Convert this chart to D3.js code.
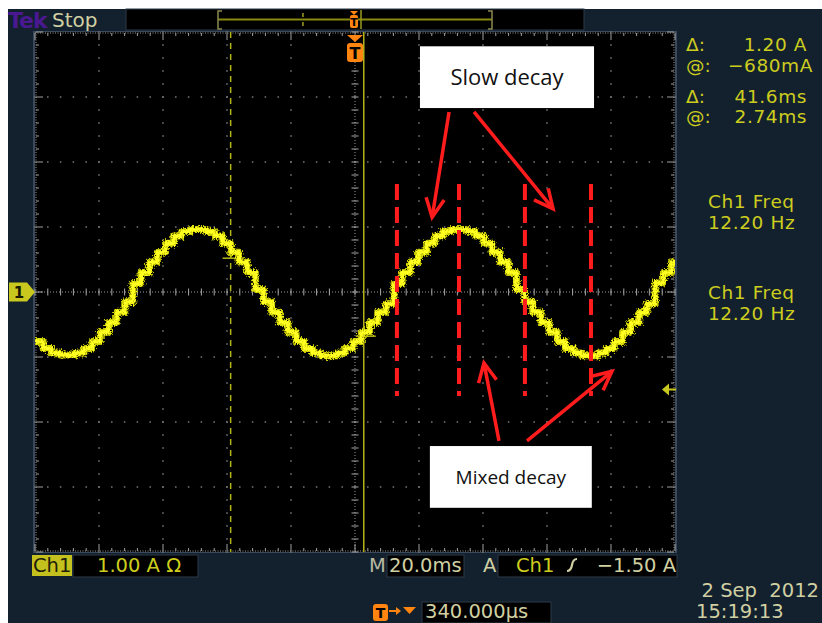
<!DOCTYPE html>
<html>
<head>
<meta charset="utf-8">
<script src="https://cdn.jsdelivr.net/npm/d3@7"></script>
<style>
html,body{margin:0;padding:0;background:#ffffff;}
svg{display:block;}
</style>
</head>
<body>
<svg id="chart" width="822" height="623"></svg>
<script>
// ---------------- DATA ----------------
const timeDomainMs = [-100, 100];        // 10 div x 20 ms/div
const currentDomainA = [-4, 4];          // 8 div x 1.00 A/div
const traceStartMs = -100;
const stepMs = 2.55;                     // one microstep
const stepLevelsA = [
  -0.76,-0.87,-0.94,-0.97,-0.97,-0.94,-0.87,-0.76,-0.62,-0.47,-0.31,-0.15,
   0.13, 0.30, 0.46, 0.61, 0.75, 0.86, 0.93, 0.96, 0.96, 0.93, 0.86, 0.75, 0.61, 0.46, 0.30, 0.04,
  -0.15,-0.31,-0.47,-0.62,-0.76,-0.87,-0.94,-0.98,-0.98,-0.94,-0.87,-0.76,-0.62,-0.47,-0.31,-0.18,
   0.13, 0.30, 0.46, 0.61, 0.75, 0.86, 0.93, 0.96, 0.96, 0.93, 0.86, 0.75, 0.61, 0.46, 0.30, 0.04,
  -0.15,-0.31,-0.47,-0.62,-0.76,-0.87,-0.94,-0.98,-0.98,-0.94,-0.87,-0.76,-0.62,-0.47,-0.31,-0.18,
   0.14, 0.30, 0.46
];
const cursorTimesMs = [-38.86, 2.74];
const cursorValuesA = [0.52, -0.68];
const triggerLevelA = -1.50;
const triggerTimeMs = 0;
const markerTimesMs = [13.1, 32.5, 53.1, 73.75];   // red dashed annotation lines
const markerRangeA = [1.66, -1.60];
const annotationBoxes = [
  {label: "Slow decay",  t0: 20.3, t1: 74.7, a0: 3.78, a1: 2.83, size: 22},
  {label: "Mixed decay", t0: 23.4, t1: 74.0, a0: -2.37, a1: -3.32, size: 19}
];
const arrows = [
  {t0: 29.4, a0: 2.77, t1: 24.1, a1: 1.15},
  {t0: 37.2, a0: 2.77, t1: 61.9, a1: 1.28},
  {t0: 45.0, a0: -2.29, t1: 40.3, a1: -1.09},
  {t0: 53.75, a0: -2.29, t1: 80.3, a1: -1.22}
];
const readouts = [
  ["Δ:", "1.20 A"], ["@:", "−680mA"], ["Δ:", "41.6ms"], ["@:", "2.74ms"]
];
const measLabels = [["Ch1 Freq", "12.20 Hz"], ["Ch1 Freq", "12.20 Hz"]];

// ---------------- LAYOUT ----------------
const svg = d3.select("#chart");
const GX0 = 35, GX1 = 675, GY0 = 32, GY1 = 552;
const x = d3.scaleLinear().domain(timeDomainMs).range([GX0, GX1]);
const y = d3.scaleLinear().domain(currentDomainA).range([GY1, GY0]);

const YEL = "#cdcd1e", KHAKI = "#d0d0a2", NAVY = "#13212f", ORANGE = "#ff8410";
const FS = 19.5, FSR = 18.5;
const defs = svg.append("defs");
defs.append("clipPath").attr("id","gclip").append("rect")
  .attr("x",GX0).attr("y",GY0).attr("width",GX1-GX0).attr("height",GY1-GY0);
const f = defs.append("filter").attr("id","fuzz").attr("x","-5%").attr("y","-20%").attr("width","110%").attr("height","140%");
f.append("feTurbulence").attr("type","fractalNoise").attr("baseFrequency","0.9 0.6").attr("numOctaves",2).attr("seed",4).attr("result","n");
f.append("feDisplacementMap").attr("in","SourceGraphic").attr("in2","n").attr("scale",7)
  .attr("xChannelSelector","R").attr("yChannelSelector","G");

// panel background
svg.append("rect").attr("x",8).attr("y",9).attr("width",814).attr("height",614).attr("fill",NAVY);

// top bar
svg.append("text").attr("x",8).attr("y",28).attr("font-family","DejaVu Sans").attr("font-weight","bold")
  .attr("font-size",22).attr("fill","#4a1890").attr("letter-spacing",-1).text("Tek");
svg.append("text").attr("x",52).attr("y",27).attr("font-family","DejaVu Sans")
  .attr("font-size",20).attr("fill",KHAKI).text("Stop");
svg.append("rect").attr("x",126).attr("y",9).attr("width",458).attr("height",21).attr("fill","#000")
  .attr("stroke","#2c3a48").attr("stroke-width",1);
const recX = d3.scaleLinear().domain(timeDomainMs).range([218, 492]);
svg.append("line").attr("x1",recX(-100)).attr("x2",recX(100)).attr("y1",19.5).attr("y2",19.5)
  .attr("stroke","#8a8a10").attr("stroke-width",2);
svg.append("path").attr("d",`M${recX(-100)+4},11 H${recX(-100)} V29 H${recX(-100)+4}`).attr("fill","none").attr("stroke","#8a8a50").attr("stroke-width",1.5);
svg.append("path").attr("d",`M${recX(100)-4},11 H${recX(100)} V29 H${recX(100)-4}`).attr("fill","none").attr("stroke","#8a8a50").attr("stroke-width",1.5);
svg.append("line").attr("x1",recX(-38)).attr("x2",recX(-38)).attr("y1",13).attr("y2",17).attr("stroke","#a0a020").attr("stroke-width",1.5);
svg.append("line").attr("x1",recX(-38)).attr("x2",recX(-38)).attr("y1",22).attr("y2",26).attr("stroke","#a0a020").attr("stroke-width",1.5);
svg.append("line").attr("x1",361).attr("x2",361).attr("y1",10).attr("y2",29).attr("stroke","#9a9a20").attr("stroke-width",1.5);
// small T in record bar
svg.append("path").attr("d","M350,11 L358,11 L354,15 Z").attr("fill",ORANGE);
svg.append("rect").attr("x",350).attr("y",15).attr("width",8).attr("height",13).attr("rx",2).attr("fill",ORANGE);
svg.append("text").attr("x",354).attr("y",26).attr("text-anchor","middle").attr("font-family","DejaVu Sans")
  .attr("font-weight","bold").attr("font-size",11).attr("fill","#000").text("T");

// graticule
svg.append("rect").attr("x",GX0-2).attr("y",GY0-1).attr("width",GX1-GX0+4).attr("height",GY1-GY0+2).attr("fill","#3a4a5c");
svg.append("rect").attr("x",GX0).attr("y",GY0).attr("width",GX1-GX0).attr("height",GY1-GY0).attr("fill","#000");

const grid = svg.append("g");
const majorT = d3.range(-100, 101, 20), majorA = d3.range(-4, 5, 1);
const minorT = d3.range(-100, 100.01, 4), minorA = d3.range(-4, 4.01, 0.2);
const DOT = "#7a7a7a";
majorT.slice(1,-1).forEach(t => {
  if (t === 0) return;
  minorA.forEach(a => grid.append("rect").attr("x",x(t)-0.75).attr("y",y(a)-0.75).attr("width",1.5).attr("height",1.5).attr("fill",DOT));
});
majorA.slice(1,-1).forEach(a => {
  if (a === 0) return;
  minorT.forEach(t => grid.append("rect").attr("x",x(t)-0.75).attr("y",y(a)-0.75).attr("width",1.5).attr("height",1.5).attr("fill",DOT));
});
grid.append("line").attr("x1",GX0).attr("x2",GX1).attr("y1",y(0)).attr("y2",y(0))
  .attr("stroke","#9a9a9a").attr("stroke-width",1).attr("stroke-dasharray","1,2");
grid.append("line").attr("x1",x(0)).attr("x2",x(0)).attr("y1",GY0).attr("y2",GY1)
  .attr("stroke","#9a9a9a").attr("stroke-width",1).attr("stroke-dasharray","1,2");
minorT.forEach(t => grid.append("line").attr("x1",x(t)).attr("x2",x(t)).attr("y1",y(0)-3.5).attr("y2",y(0)+3.5).attr("stroke","#a8a8a8").attr("stroke-width",1));
minorA.forEach(a => grid.append("line").attr("y1",y(a)).attr("y2",y(a)).attr("x1",x(0)-3.5).attr("x2",x(0)+3.5).attr("stroke","#a8a8a8").attr("stroke-width",1));
[GY0+1, GY1-1].forEach((yy,i) => {
  grid.append("line").attr("x1",GX0).attr("x2",GX1).attr("y1",yy).attr("y2",yy).attr("stroke","#9a9a9a").attr("stroke-dasharray","1,1.5");
  minorT.forEach(t => { const maj = Math.abs(t % 20) < 0.01; grid.append("line").attr("x1",x(t)).attr("x2",x(t)).attr("y1",yy).attr("y2", i===0 ? yy+(maj?7:3) : yy-(maj?7:3)).attr("stroke","#a0a0a0"); });
});
[GX0+1, GX1-1].forEach((xx,i) => {
  grid.append("line").attr("y1",GY0).attr("y2",GY1).attr("x1",xx).attr("x2",xx).attr("stroke","#9a9a9a").attr("stroke-dasharray","1,1.5");
  minorA.forEach(a => { const maj = Math.abs(Math.round(a*5) % 5) === 0; grid.append("line").attr("y1",y(a)).attr("y2",y(a)).attr("x1",xx).attr("x2", i===0 ? xx+(maj?7:3) : xx-(maj?7:3)).attr("stroke","#a0a0a0"); });
});

// cursors
const plot = svg.append("g").attr("clip-path","url(#gclip)");
plot.append("line").attr("x1",x(cursorTimesMs[0])).attr("x2",x(cursorTimesMs[0])).attr("y1",GY0).attr("y2",GY1)
  .attr("stroke","#b4b41a").attr("stroke-width",1.5).attr("stroke-dasharray","6,5");
plot.append("line").attr("x1",x(cursorTimesMs[1])).attr("x2",x(cursorTimesMs[1])).attr("y1",GY0).attr("y2",GY1)
  .attr("stroke","#b4b41a").attr("stroke-width",1.5);
cursorTimesMs.forEach((t,i) => plot.append("line").attr("x1",x(t)-8).attr("x2",x(t)+12).attr("y1",y(cursorValuesA[i])).attr("y2",y(cursorValuesA[i]))
  .attr("stroke","#b4b41a").attr("stroke-width",1.5));

// trace
const pts = stepLevelsA.map((v,i) => [traceStartMs + i*stepMs, v]);
pts.push([traceStartMs + stepLevelsA.length*stepMs, stepLevelsA[stepLevelsA.length-1]]);
const line = d3.line().x(d => x(d[0])).y(d => y(d[1])).curve(d3.curveStepAfter);
const tg = plot.append("g").attr("filter","url(#fuzz)");
tg.append("path").attr("d",line(pts)).attr("fill","none").attr("stroke","#c4c400").attr("stroke-width",7).attr("stroke-linejoin","round");
tg.append("path").attr("d",line(pts)).attr("fill","none").attr("stroke","#ffff20").attr("stroke-width",4).attr("stroke-linejoin","round");

// trigger marker (top) and trigger level arrow (right)
svg.append("path").attr("d",`M${x(triggerTimeMs)-8},35 L${x(triggerTimeMs)+8},35 L${x(triggerTimeMs)},42 Z`).attr("fill",ORANGE);
svg.append("rect").attr("x",x(triggerTimeMs)-8).attr("y",43).attr("width",16).attr("height",19).attr("rx",3).attr("fill",ORANGE);
svg.append("text").attr("x",x(triggerTimeMs)).attr("y",59).attr("text-anchor","middle").attr("font-family","DejaVu Sans")
  .attr("font-weight","bold").attr("font-size",16).attr("fill","#000").text("T");
svg.append("path").attr("d",`M${GX1-13},${y(triggerLevelA)} L${GX1-6},${y(triggerLevelA)-6} L${GX1-6},${y(triggerLevelA)+6} Z`).attr("fill","#c8c81e");
svg.append("line").attr("x1",GX1-7).attr("x2",GX1+1).attr("y1",y(triggerLevelA)).attr("y2",y(triggerLevelA)).attr("stroke","#c8c81e").attr("stroke-width",2);

// channel 1 ground marker
svg.append("path").attr("d",`M9,${y(0)-9.5} L27,${y(0)-9.5} L35,${y(0)} L27,${y(0)+9.5} L9,${y(0)+9.5} Z`).attr("fill","#c8c81e");
svg.append("text").attr("x",19).attr("y",y(0)+6).attr("text-anchor","middle").attr("font-family","DejaVu Sans")
  .attr("font-weight","bold").attr("font-size",15).attr("fill","#1a1a00").text("1");

// right readouts
const rY = [51, 72, 103, 123];
readouts.forEach((r,i) => {
  svg.append("text").attr("x",686).attr("y",rY[i]).attr("font-family","DejaVu Sans").attr("font-size",FSR).attr("fill",YEL).text(r[0]);
  svg.append("text").attr("x",i===1?813:807).attr("y",rY[i]).attr("text-anchor","end").attr("font-family","DejaVu Sans").attr("font-size",FSR).attr("fill",YEL).attr("letter-spacing",0.6).text(r[1]);
});
const mY = [[208, 229], [299, 320]];
measLabels.forEach((m,i) => {
  svg.append("text").attr("x",708).attr("y",mY[i][0]).attr("font-family","DejaVu Sans").attr("font-size",FSR).attr("fill",YEL).attr("letter-spacing",0.6).text(m[0]);
  svg.append("text").attr("x",708).attr("y",mY[i][1]).attr("font-family","DejaVu Sans").attr("font-size",FSR).attr("fill",YEL).attr("letter-spacing",0.6).text(m[1]);
});

// bottom status bar
const bFont = {family:"DejaVu Sans", size:FS};
svg.append("rect").attr("x",32).attr("y",555).attr("width",40).attr("height",21).attr("fill","#c4c01e");
svg.append("text").attr("x",33).attr("y",572).attr("font-family",bFont.family).attr("font-size",bFont.size).attr("fill","#1e1e08").text("Ch1");
svg.append("rect").attr("x",73).attr("y",555).attr("width",125).attr("height",22).attr("fill","#000").attr("stroke","#2c3a48");
svg.append("text").attr("x",97).attr("y",572).attr("font-family",bFont.family).attr("font-size",bFont.size).attr("fill",YEL).text("1.00 A Ω");
svg.append("text").attr("x",369).attr("y",572).attr("font-family",bFont.family).attr("font-size",bFont.size).attr("fill","#b8b8a0").text("M");
svg.append("rect").attr("x",387).attr("y",555).attr("width",77).attr("height",22).attr("fill","#000").attr("stroke","#2c3a48");
svg.append("text").attr("x",389).attr("y",572).attr("font-family",bFont.family).attr("font-size",bFont.size).attr("fill",KHAKI).text("20.0ms");
svg.append("text").attr("x",483).attr("y",572).attr("font-family",bFont.family).attr("font-size",bFont.size).attr("fill",KHAKI).text("A");
svg.append("rect").attr("x",498).attr("y",555).attr("width",179).attr("height",22).attr("fill","#000").attr("stroke","#2c3a48");
svg.append("text").attr("x",516).attr("y",572).attr("font-family",bFont.family).attr("font-size",bFont.size).attr("fill",YEL).text("Ch1");
svg.append("path").attr("d","M567,571 Q571,571 572,565 Q573,559 577,559").attr("fill","none").attr("stroke",KHAKI).attr("stroke-width",2.2);
svg.append("text").attr("x",676).attr("y",572).attr("text-anchor","end").attr("font-family",bFont.family).attr("font-size",bFont.size).attr("fill",KHAKI).text("−1.50 A");

svg.append("rect").attr("x",373).attr("y",604).attr("width",15).attr("height",17).attr("rx",3).attr("fill",ORANGE);
svg.append("text").attr("x",380.5).attr("y",618).attr("text-anchor","middle").attr("font-family","DejaVu Sans").attr("font-weight","bold").attr("font-size",14).attr("fill","#000").text("T");
svg.append("line").attr("x1",389).attr("x2",399).attr("y1",611).attr("y2",611).attr("stroke",ORANGE).attr("stroke-width",2);
svg.append("path").attr("d","M396,607 L401,611 L396,615 Z").attr("fill",ORANGE);
svg.append("path").attr("d","M403,607 L416,607 L409.5,614 Z").attr("fill",ORANGE);
svg.append("rect").attr("x",422).attr("y",602).attr("width",129).attr("height",21).attr("fill","#000").attr("stroke","#2c3a48");
svg.append("text").attr("x",425).attr("y",618).attr("font-family",bFont.family).attr("font-size",bFont.size).attr("fill",KHAKI).text("340.000µs");
svg.append("text").attr("x",819).attr("y",597).attr("text-anchor","end").attr("font-family",bFont.family).attr("font-size",bFont.size).attr("fill",KHAKI).attr("xml:space","preserve").text("2 Sep  2012");
svg.append("text").attr("x",696).attr("y",618).attr("font-family",bFont.family).attr("font-size",bFont.size).attr("fill",KHAKI).text("15:19:13");

// annotations (red dashed lines, arrows, labels)
const RED = "#ff1c1c";
markerTimesMs.forEach(t => svg.append("line").attr("x1",x(t)).attr("x2",x(t)).attr("y1",y(markerRangeA[0])).attr("y2",y(markerRangeA[1]))
  .attr("stroke",RED).attr("stroke-width",4).attr("stroke-dasharray","16,7"));
arrows.forEach(a => {
  const x0 = x(a.t0), y0 = y(a.a0), x1 = x(a.t1), y1 = y(a.a1);
  const ang = Math.atan2(y0-y1, x0-x1), L = 21, sp = 0.45;
  svg.append("line").attr("x1",x0).attr("y1",y0).attr("x2",x1).attr("y2",y1).attr("stroke",RED).attr("stroke-width",3.5);
  svg.append("path").attr("d",`M${x1+L*Math.cos(ang+sp)},${y1+L*Math.sin(ang+sp)} L${x1},${y1} L${x1+L*Math.cos(ang-sp)},${y1+L*Math.sin(ang-sp)}`)
    .attr("fill","none").attr("stroke",RED).attr("stroke-width",3.5).attr("stroke-linejoin","miter");
});
annotationBoxes.forEach(b => {
  svg.append("rect").attr("x",x(b.t0)).attr("y",y(b.a0)).attr("width",x(b.t1)-x(b.t0)).attr("height",y(b.a1)-y(b.a0)).attr("fill","#fff");
  svg.append("text").attr("x",(x(b.t0)+x(b.t1))/2).attr("y",(y(b.a0)+y(b.a1))/2+b.size*0.36).attr("text-anchor","middle")
    .attr("font-family","Open Sans").attr("font-size",b.size).attr("fill","#111").text(b.label);
});
</script>
</body>
</html>
